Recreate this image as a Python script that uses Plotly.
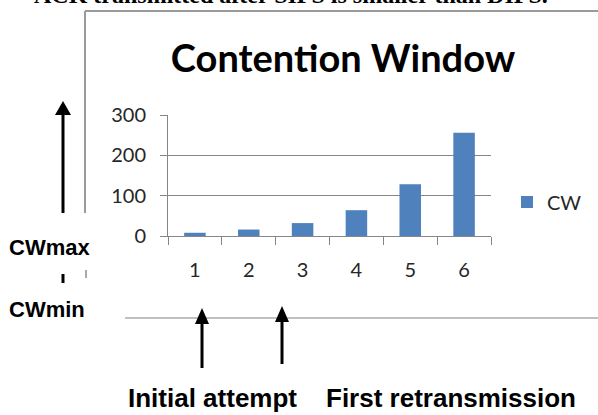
import plotly.graph_objects as go

W, H = 598, 415

categories = ["1", "2", "3", "4", "5", "6"]
cw_values = [8, 16, 32, 64, 128, 256]
y_ticks = [0, 100, 200, 300]
series_name = "CW"
title_text = "Contention Window"


def px(x):
    return x / W


def py(y):
    return 1 - y / H


fig = go.Figure()
fig.add_trace(go.Bar(x=categories, y=cw_values, name=series_name,
                     marker=dict(color="#4F81BD", line=dict(width=0))))

axis_gray = "#868686"
text_gray = "#262626"
calib = "Lato, Carlito, Calibri, sans-serif"
arial_b = "Liberation Sans, Arial, sans-serif"

fig.update_layout(
    width=W, height=H, autosize=False,
    margin=dict(l=0, r=0, t=0, b=0, pad=0, autoexpand=False),
    paper_bgcolor="white", plot_bgcolor="white",
    bargap=0.6,
    showlegend=True,
    title=dict(text="<b>" + title_text + "</b>", x=px(343), xanchor="center",
               y=py(59), yanchor="middle", yref="container",
               font=dict(family=calib, size=38, color="black")),
    legend=dict(x=px(507), y=py(202), xanchor="left", yanchor="middle",
                font=dict(family=calib, size=20, color=text_gray),
                bgcolor="rgba(0,0,0,0)", itemwidth=30),
    xaxis=dict(domain=[px(168), px(491)], type="category",
               showline=True, linecolor=axis_gray, linewidth=1,
               ticks="outside", ticklen=8, tickcolor=axis_gray,
               tickson="boundaries", showgrid=False, ticklabelstandoff=16,
               tickfont=dict(family=calib, size=20, color=text_gray)),
    yaxis=dict(domain=[py(236), py(115)], range=[0, 300], tickvals=y_ticks,
               showline=True, linecolor=axis_gray, linewidth=1,
               ticks="outside", ticklen=7, tickcolor=axis_gray,
               showgrid=True, gridcolor=axis_gray, gridwidth=1, zeroline=False,
               ticklabelstandoff=10,
               tickfont=dict(family=calib, size=20, color=text_gray)),
)

shapes = []
frame = "#9a9a9a"
# outer frame lines
shapes.append(dict(type="line", xref="paper", yref="paper", x0=px(85), x1=px(598), y0=py(11), y1=py(11),
                   line=dict(color=frame, width=2)))
shapes.append(dict(type="line", xref="paper", yref="paper", x0=px(85), x1=px(85), y0=py(11), y1=py(213),
                   line=dict(color=frame, width=2)))
shapes.append(dict(type="line", xref="paper", yref="paper", x0=px(86), x1=px(86), y0=py(270), y1=py(278),
                   line=dict(color="#aaaaaa", width=2)))
# bottom horizontal line
shapes.append(dict(type="line", xref="paper", yref="paper", x0=px(125), x1=px(598), y0=py(318), y1=py(318),
                   line=dict(color="#808080", width=1)))
# short bold bar between CWmax and CWmin
shapes.append(dict(type="line", xref="paper", yref="paper", x0=px(63), x1=px(63), y0=py(274), y1=py(283),
                   line=dict(color="black", width=3)))


def arrow(x, tip, base, bottom, half=8):
    shapes.append(dict(type="line", xref="paper", yref="paper", x0=px(x), x1=px(x), y0=py(base - 1), y1=py(bottom),
                       line=dict(color="black", width=3)))
    path = "M {} {} L {} {} L {} {} Z".format(px(x), py(tip), px(x - half), py(base), px(x + half), py(base))
    shapes.append(dict(type="path", xref="paper", yref="paper", path=path,
                       fillcolor="black", line=dict(color="black", width=0)))


arrow(63, 101, 115, 213, 8)
arrow(202, 308, 324, 368, 7)
arrow(282, 306, 322, 364, 7)

fig.update_layout(shapes=shapes)

ann = []
ann.append(dict(text="<b>CWmax</b>", xref="paper", yref="paper", x=px(7), y=py(247), xanchor="left", yanchor="middle",
                showarrow=False, font=dict(family=arial_b, size=22, color="black")))
ann.append(dict(text="<b>CWmin</b>", xref="paper", yref="paper", x=px(7), y=py(309), xanchor="left", yanchor="middle",
                showarrow=False, font=dict(family=arial_b, size=22, color="black")))
ann.append(dict(text="<b>Initial attempt</b>", xref="paper", yref="paper", x=px(126), y=py(398), xanchor="left",
                yanchor="middle", showarrow=False, font=dict(family=arial_b, size=26, color="black")))
ann.append(dict(text="<b>First retransmission</b>", xref="paper", yref="paper", x=px(324), y=py(398), xanchor="left",
                yanchor="middle", showarrow=False, font=dict(family=arial_b, size=26, color="black")))
ann.append(dict(text="<b>ACK transmitted after SIFS is smaller than DIFS.</b>", xref="paper", yref="paper",
                x=px(291), y=py(-5), xanchor="center", yanchor="middle", showarrow=False,
                font=dict(family="Liberation Serif, Times New Roman, serif", size=24, color="black")))
fig.update_layout(annotations=ann)

fig.write_html("out.html", config={"displayModeBar": False},
               post_script="document.body.style.margin='0px';")
